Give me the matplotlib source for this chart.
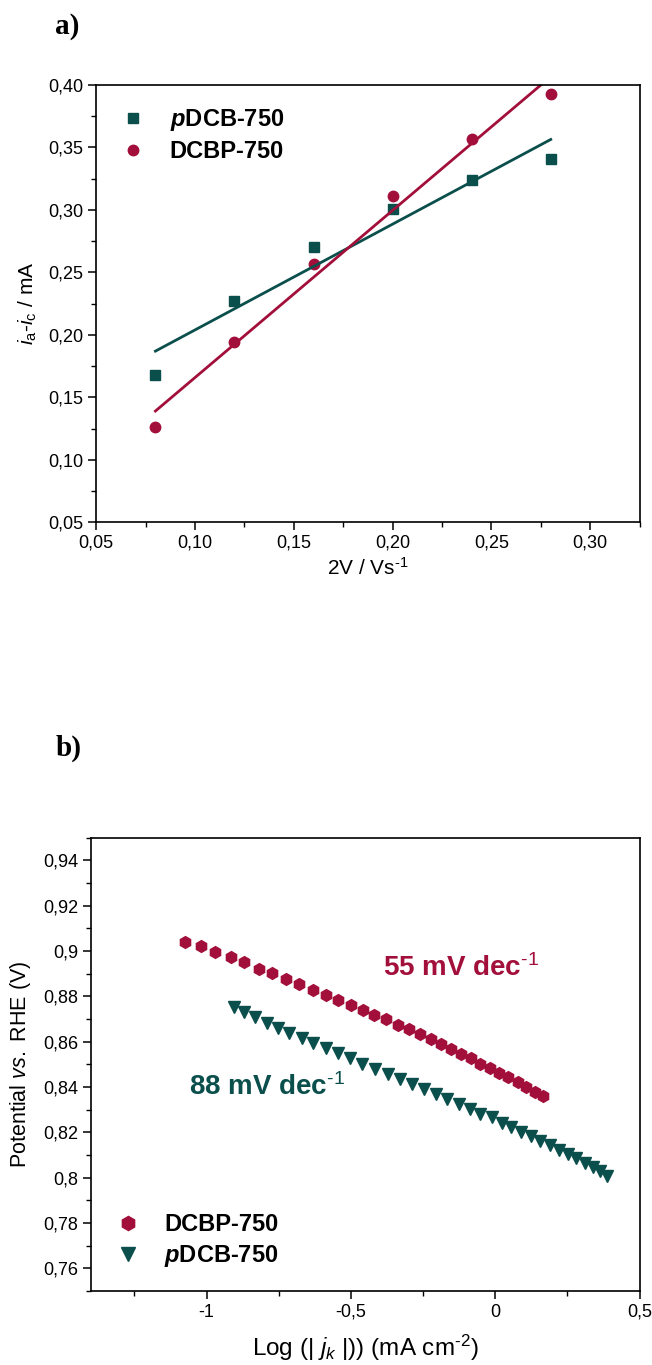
import numpy as np
import matplotlib
matplotlib.use("Agg")
import matplotlib.pyplot as plt
from matplotlib import font_manager
from matplotlib.ticker import FuncFormatter, MultipleLocator, AutoMinorLocator

names = {f.name for f in font_manager.fontManager.ttflist}
narrow = 'Liberation Sans Narrow' if 'Liberation Sans Narrow' in names else 'Liberation Sans'

plt.rcParams['font.family'] = [narrow, 'DejaVu Sans']
plt.rcParams['mathtext.fontset'] = 'custom'
plt.rcParams['mathtext.rm'] = narrow
plt.rcParams['mathtext.it'] = narrow + ':italic'
plt.rcParams['mathtext.bf'] = narrow + ':bold'
plt.rcParams['mathtext.bfit'] = narrow + ':italic:bold'

teal = '#0b4f4c'
crimson = '#a30f3b'

# panel a: double-layer capacitance
scan_rate = [0.08, 0.12, 0.16, 0.20, 0.24, 0.28]
pdcb_current = [0.1675, 0.2270, 0.2702, 0.3008, 0.3239, 0.3404]
dcbp_current = [0.1260, 0.1941, 0.2569, 0.3109, 0.3564, 0.3925]

# panel b: Tafel plots
dcbp_logj = [-1.074, -1.020, -0.971, -0.916, -0.869, -0.819, -0.772, -0.726,
             -0.680, -0.632, -0.587, -0.544, -0.501, -0.459, -0.419, -0.377,
             -0.338, -0.300, -0.261, -0.224, -0.189, -0.153, -0.118, -0.085,
             -0.052, -0.019, 0.013, 0.045, 0.077, 0.107, 0.137, 0.165]
dcbp_pot = [0.9042, 0.9020, 0.8996, 0.8974, 0.8950, 0.8921, 0.8901, 0.8877,
            0.8855, 0.8830, 0.8808, 0.8786, 0.8763, 0.8742, 0.8717, 0.8698,
            0.8673, 0.8654, 0.8632, 0.8613, 0.8588, 0.8566, 0.8547, 0.8526,
            0.8503, 0.8485, 0.8463, 0.8443, 0.8421, 0.8401, 0.8380, 0.8361]
pdcb_logj = [-0.904, -0.872, -0.831, -0.792, -0.754, -0.713, -0.671, -0.630,
             -0.588, -0.546, -0.503, -0.460, -0.415, -0.372, -0.329, -0.288,
             -0.248, -0.207, -0.168, -0.127, -0.089, -0.052, -0.012, 0.024,
             0.055, 0.090, 0.125, 0.156, 0.188, 0.219, 0.252, 0.281, 0.310,
             0.338, 0.364, 0.387]
pdcb_pot = [0.8755, 0.8733, 0.8708, 0.8684, 0.8659, 0.8637, 0.8615, 0.8593,
            0.8571, 0.8549, 0.8527, 0.8501, 0.8478, 0.8457, 0.8434, 0.8413,
            0.8391, 0.8369, 0.8347, 0.8325, 0.8304, 0.8280, 0.8268, 0.8242,
            0.8224, 0.8202, 0.8183, 0.8162, 0.8143, 0.8121, 0.8104, 0.8085,
            0.8065, 0.8047, 0.8030, 0.8006]

big = narrow == 'Liberation Sans Narrow'
tick_fs = 15 if big else 13
lab_fs = 17 if big else 15
leg_fs = 20.5 if big else 17
ann_fs = 24 if big else 20


def comma2(v, pos):
    return ('%.2f' % v).replace('.', ',')


def commag(v, pos):
    s = ('%.2f' % v).rstrip('0').rstrip('.')
    if s in ('-0', ''):
        s = '0'
    return s.replace('.', ',')


def style_axes(ax):
    ax.tick_params(which='major', direction='out', length=6, width=1.1,
                   labelsize=tick_fs, top=False, right=False, pad=3)
    ax.tick_params(which='minor', direction='out', length=3.5, width=1.0,
                   top=False, right=False)
    for s in ax.spines.values():
        s.set_linewidth(1.2)


fig = plt.figure(figsize=(6.52, 13.65), dpi=100)

# ---- panel a
ax1 = fig.add_axes([0.1474, 0.6174, 0.8337, 0.3204])
ax1.plot(scan_rate, pdcb_current, 's', color=teal, ms=6.5, label=r'$\mathbfit{p}$DCB-750')
ax1.plot(scan_rate, dcbp_current, 'o', color=crimson, ms=7.5, label='DCBP-750')
xs = np.array([scan_rate[0], scan_rate[-1]])
k, b = np.polyfit(scan_rate, pdcb_current, 1)
ax1.plot(xs, k * xs + b, color=teal, lw=2)
k, b = np.polyfit(scan_rate, dcbp_current, 1)
ax1.plot(xs, k * xs + b, color=crimson, lw=2)
ax1.set_xlim(0.05, 0.325)
ax1.set_ylim(0.05, 0.40)
ax1.xaxis.set_major_locator(MultipleLocator(0.05))
ax1.yaxis.set_major_locator(MultipleLocator(0.05))
ax1.xaxis.set_minor_locator(AutoMinorLocator(2))
ax1.yaxis.set_minor_locator(AutoMinorLocator(2))
ax1.xaxis.set_major_formatter(FuncFormatter(comma2))
ax1.yaxis.set_major_formatter(FuncFormatter(comma2))
style_axes(ax1)
ax1.set_xlabel(r'2V / Vs$^{\text{-1}}$', fontsize=lab_fs)
ax1.set_ylabel(r'$\mathit{i}_\mathrm{a}$-$\mathit{i}_\mathrm{c}$ / mA', fontsize=lab_fs)
ax1.xaxis.set_label_coords(0.5, -0.105, transform=ax1.transAxes)
ax1.xaxis.label.set_va('center')
ax1.yaxis.set_label_coords(-0.125, 0.5, transform=ax1.transAxes)
ax1.yaxis.label.set_va('center')
ax1.legend(loc='upper left', bbox_to_anchor=(0.046, 0.95), frameon=False,
           borderpad=0, borderaxespad=0,
           prop={'weight': 'bold', 'size': leg_fs}, handletextpad=1.05,
           labelspacing=0.3, handlelength=1.0)

fig.text(0.085, 1 - 27 / 1365, 'a)', family='Liberation Serif', weight='bold',
         fontsize=21, ha='left', va='center')

# ---- panel b
ax2 = fig.add_axes([0.1397, 0.0542, 0.8414, 0.3321])
ax2.plot(dcbp_logj, dcbp_pot, 'h', color=crimson, ms=8.5, ls='none', label='DCBP-750')
ax2.plot(pdcb_logj, pdcb_pot, 'v', color=teal, ms=8.5, ls='none', label=r'$\mathbfit{p}$DCB-750')
ax2.set_xlim(-1.4, 0.5)
ax2.set_ylim(0.75, 0.95)
ax2.xaxis.set_major_locator(MultipleLocator(0.5))
ax2.yaxis.set_major_locator(MultipleLocator(0.02))
ax2.xaxis.set_minor_locator(AutoMinorLocator(2))
ax2.yaxis.set_minor_locator(AutoMinorLocator(2))
ax2.xaxis.set_major_formatter(FuncFormatter(commag))
ax2.yaxis.set_major_formatter(FuncFormatter(commag))
style_axes(ax2)
ax2.set_xlabel(r'Log (| $\mathit{j}_\mathit{k}$ |)) (mA cm$^{\text{-2}}$)', fontsize=17.5)
ax2.set_ylabel(r'Potential $\mathit{vs.}$ RHE (V)', fontsize=lab_fs + 0.5)
ax2.xaxis.set_label_coords(0.5, -0.125, transform=ax2.transAxes)
ax2.xaxis.label.set_va('center')
ax2.yaxis.set_label_coords(-0.128, 0.5, transform=ax2.transAxes)
ax2.yaxis.label.set_va('center')
ax2.text(-0.39, 0.8924, r'55 mV dec$^{\mathbf{\text{-1}}}$', color=crimson, fontsize=ann_fs,
         weight='bold', ha='left', va='center')
ax2.text(-1.06, 0.8400, r'88 mV dec$^{\mathbf{\text{-1}}}$', color=teal, fontsize=ann_fs,
         weight='bold', ha='left', va='center')
ax2.legend(loc='lower left', bbox_to_anchor=(0.045, 0.048), frameon=False,
           borderpad=0, borderaxespad=0, markerscale=1.2,
           prop={'weight': 'bold', 'size': leg_fs}, handletextpad=1.05,
           labelspacing=0.3, handlelength=1.0)

fig.text(0.085, 1 - 748 / 1365, 'b)', family='Liberation Serif', weight='bold',
         fontsize=21, ha='left', va='center')

fig.savefig('out.png', dpi=100)
